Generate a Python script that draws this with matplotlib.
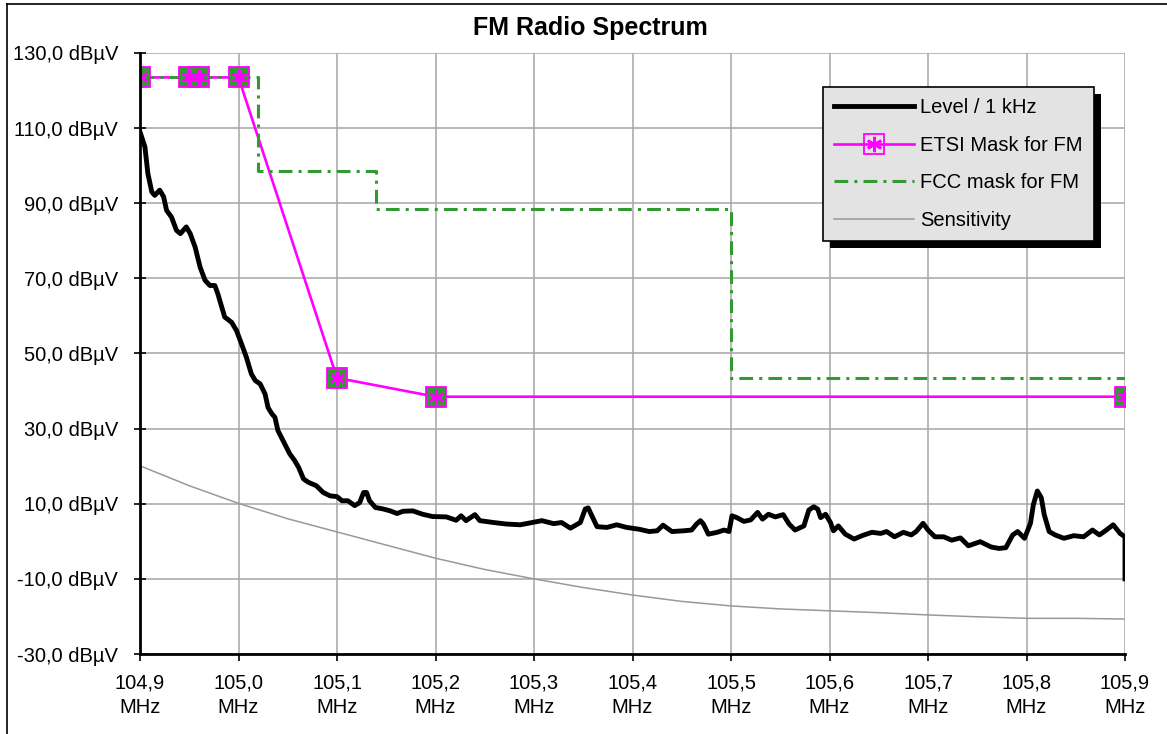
"""
plot.py -- FM radio spectrum with ETSI / FCC masks and receiver sensitivity.
"""

import matplotlib
matplotlib.use("Agg")
import matplotlib.pyplot as plt
from matplotlib.lines import Line2D
from matplotlib.patches import Rectangle
from matplotlib.legend_handler import HandlerTuple
from matplotlib.ticker import FuncFormatter, MultipleLocator
from matplotlib.transforms import IdentityTransform

# ----------------------------------------------------------------------
# Data
# ----------------------------------------------------------------------
level_freq = [
    104.900, 104.905, 104.908, 104.912, 104.915, 104.920, 104.924, 104.927,
    104.932, 104.937, 104.941, 104.947, 104.951, 104.956, 104.961, 104.966,
    104.971, 104.976, 104.979, 104.983, 104.986, 104.993, 104.998, 105.003,
    105.008, 105.013, 105.017, 105.022, 105.027, 105.030, 105.034, 105.037,
    105.040, 105.047, 105.052, 105.057, 105.061, 105.066, 105.071, 105.079,
    105.086, 105.093, 105.100, 105.105, 105.111, 105.118, 105.123, 105.127,
    105.130, 105.133, 105.139, 105.147, 105.154, 105.161, 105.167, 105.177,
    105.187, 105.197, 105.211, 105.221, 105.226, 105.231, 105.240, 105.245,
    105.259, 105.272, 105.286, 105.296, 105.308, 105.320, 105.328, 105.337,
    105.347, 105.352, 105.355, 105.358, 105.364, 105.374, 105.384, 105.394,
    105.407, 105.417, 105.425, 105.431, 105.440, 105.452, 105.460, 105.465,
    105.469, 105.472, 105.477, 105.486, 105.493, 105.498, 105.501, 105.506,
    105.513, 105.520, 105.527, 105.532, 105.538, 105.545, 105.553, 105.559,
    105.565, 105.574, 105.579, 105.584, 105.588, 105.591, 105.596, 105.601,
    105.604, 105.609, 105.616, 105.625, 105.633, 105.643, 105.652, 105.658,
    105.666, 105.675, 105.683, 105.688, 105.695, 105.700, 105.707, 105.716,
    105.724, 105.733, 105.741, 105.753, 105.764, 105.772, 105.779, 105.786,
    105.791, 105.798, 105.804, 105.807, 105.811, 105.815, 105.818, 105.823,
    105.829, 105.838, 105.848, 105.858, 105.867, 105.874, 105.879, 105.888,
    105.895, 105.900, 105.900,
]
level_db = [
    109.0, 105.0, 97.9, 93.0, 92.1, 93.5, 91.7, 88.1,
    86.3, 82.8, 81.9, 83.7, 81.9, 78.3, 73.0, 69.5,
    68.1, 68.1, 65.9, 62.3, 59.7, 58.3, 56.1, 52.6,
    49.0, 44.6, 42.8, 41.9, 39.2, 35.6, 33.9, 33.0,
    29.5, 25.9, 23.3, 21.5, 19.7, 16.6, 15.7, 14.8,
    13.0, 12.1, 11.9, 10.8, 10.8, 9.5, 10.3, 13.0,
    13.0, 10.8, 9.0, 8.6, 8.1, 7.4, 8.0, 8.1,
    7.2, 6.6, 6.5, 5.6, 6.8, 5.5, 7.1, 5.5,
    5.0, 4.6, 4.4, 4.9, 5.5, 4.7, 5.0, 3.5,
    5.0, 8.6, 8.9, 7.2, 3.9, 3.7, 4.4, 3.7,
    3.2, 2.6, 2.8, 4.3, 2.6, 2.8, 3.0, 4.6,
    5.5, 4.6, 1.9, 2.4, 3.0, 2.6, 6.8, 6.3,
    5.3, 5.7, 7.7, 5.9, 7.2, 6.5, 7.1, 4.6,
    3.0, 4.1, 8.3, 9.2, 8.6, 6.3, 7.2, 5.0,
    2.8, 4.1, 1.9, 0.6, 1.5, 2.4, 2.1, 2.6,
    1.2, 2.4, 1.7, 2.6, 4.8, 3.0, 1.2, 1.2,
    0.3, 0.9, -1.2, -0.1, -1.5, -1.9, -1.7, 1.7,
    2.6, 0.8, 4.8, 9.8, 13.4, 11.6, 7.1, 2.6,
    1.7, 0.8, 1.5, 1.2, 3.0, 1.7, 2.6, 4.4,
    2.1, 1.2, -10.0,
]

etsi_freq = [104.90, 104.95, 104.96, 105.00, 105.10, 105.20, 105.90]
etsi_db = [123.5, 123.5, 123.5, 123.5, 43.5, 38.5, 38.5]

fcc_freq = [104.90, 105.02, 105.02, 105.14, 105.14, 105.50, 105.50, 105.90]
fcc_db = [123.5, 123.5, 98.5, 98.5, 88.5, 88.5, 43.5, 43.5]

sens_freq = [104.90, 104.95, 105.00, 105.05, 105.10, 105.15, 105.20,
             105.25, 105.30, 105.35, 105.40, 105.45, 105.50, 105.55,
             105.60, 105.65, 105.70, 105.75, 105.80, 105.85, 105.90]
sens_db = [20.1, 14.8, 10.1, 6.0, 2.5, -1.0, -4.5,
           -7.5, -10.0, -12.3, -14.3, -16.0, -17.2, -18.0,
           -18.5, -19.0, -19.6, -20.1, -20.5, -20.5, -20.7]

series_names = ["Level / 1 kHz", "ETSI Mask for FM", "FCC mask for FM", "Sensitivity"]

MAGENTA = "#ff00ff"
GREEN = "#339933"
GREY = "#999999"
FONT = "Liberation Sans"


def fmt_db(v, _pos):
    return f"{v:.1f}".replace(".", ",") + " dB\u00b5V"


def fmt_mhz(v, _pos):
    return f"{v:.1f}".replace(".", ",") + "\nMHz"


def plot_spectrum(save_path: str) -> None:
    plt.rcParams["font.family"] = [FONT, "DejaVu Sans"]
    fig = plt.figure(figsize=(11.67, 7.34), dpi=100)
    ax = fig.add_axes([140 / 1167, 1 - 654 / 734, 985 / 1167, 601 / 734])

    # series
    ax.plot(sens_freq, sens_db, color=GREY, lw=1.1, zorder=3)
    ax.plot(level_freq, level_db, color="black", lw=3.5, zorder=4,
            solid_joinstyle="round")
    ax.plot(etsi_freq, etsi_db, color=MAGENTA, lw=1.9, zorder=5)
    ax.plot(fcc_freq, fcc_db, color=GREEN, lw=2.2, dashes=(4.5, 2, 1, 2), zorder=6)
    ax.plot(etsi_freq, etsi_db, ls="none", marker="s", ms=14.5, mfc=GREEN,
            mec=MAGENTA, mew=1.3, zorder=7)
    ax.plot(etsi_freq, etsi_db, ls="none", marker=(6, 2, 0), ms=11,
            mec=MAGENTA, mew=1.9, zorder=8)

    # axes
    ax.set_xlim(104.9, 105.9)
    ax.set_ylim(-30, 130)
    ax.xaxis.set_major_locator(MultipleLocator(0.1))
    ax.set_yticks([-30, -10, 10, 30, 50, 70, 90, 110, 130])
    ax.xaxis.set_major_formatter(FuncFormatter(fmt_mhz))
    ax.yaxis.set_major_formatter(FuncFormatter(fmt_db))
    ax.tick_params(axis="x", direction="out", length=5, width=1.2, pad=9,
                   labelsize=14.5)
    ax.tick_params(axis="y", direction="inout", length=8.6, width=1.2, pad=11.5,
                   labelsize=14.5)
    for lab in ax.get_xticklabels():
        lab.set_linespacing(1.4)
    ax.grid(True, color="#a6a6a6", lw=1.1, zorder=1)
    ax.set_axisbelow(True)
    for side in ("top", "right"):
        ax.spines[side].set_visible(False)
    for side in ("left", "bottom"):
        ax.spines[side].set_linewidth(2.0)
        ax.spines[side].set_zorder(9)

    fig.text(590 / 1167, 1 - 28 / 734, "FM Radio Spectrum", ha="center",
             va="center", fontsize=18, fontweight="bold")

    # legend
    h_level = Line2D([], [], color="black", lw=3.5)
    h_etsi = (Line2D([], [], color=MAGENTA, lw=1.9, marker="s", ms=14.5,
                     mfc="none", mec=MAGENTA, mew=1.3),
              Line2D([], [], ls="none", marker=(6, 2, 0), ms=11, mec=MAGENTA, mew=1.9))
    h_fcc = Line2D([], [], color=GREEN, lw=2.2, dashes=(4.5, 2, 1, 2))
    h_sens = Line2D([], [], color=GREY, lw=1.1)
    leg = ax.legend([h_level, h_etsi, h_fcc, h_sens], series_names,
                    handler_map={tuple: HandlerTuple(ndivide=1, pad=0)},
                    loc="upper right", bbox_to_anchor=(0.9685, 0.9434),
                    borderaxespad=0, fontsize=14.5, handlelength=4.0,
                    handletextpad=0.3, labelspacing=0.92, borderpad=0.55,
                    numpoints=1, fancybox=False, framealpha=1,
                    facecolor="#e3e3e3", edgecolor="black")
    leg.get_frame().set_linewidth(1.2)
    leg.set_zorder(20)

    # black drop shadow behind the legend box
    fig.canvas.draw()
    bb = leg.get_window_extent()
    shadow = Rectangle((bb.x0 + 7, bb.y0 - 7), bb.width, bb.height,
                       transform=IdentityTransform(), facecolor="black",
                       edgecolor="none", zorder=19, clip_on=False)
    ax.add_artist(shadow)

    # outer chart border (left and top edges visible)
    fig.add_artist(Line2D([7 / 1167, 7 / 1167], [0, 1 - 4 / 734], color="black", lw=1.2))
    fig.add_artist(Line2D([7 / 1167, 1], [1 - 4 / 734, 1 - 4 / 734], color="black", lw=1.2))

    fig.savefig(save_path, dpi=100)
    plt.close(fig)


def main() -> None:
    plot_spectrum("out.png")


if __name__ == "__main__":
    main()
